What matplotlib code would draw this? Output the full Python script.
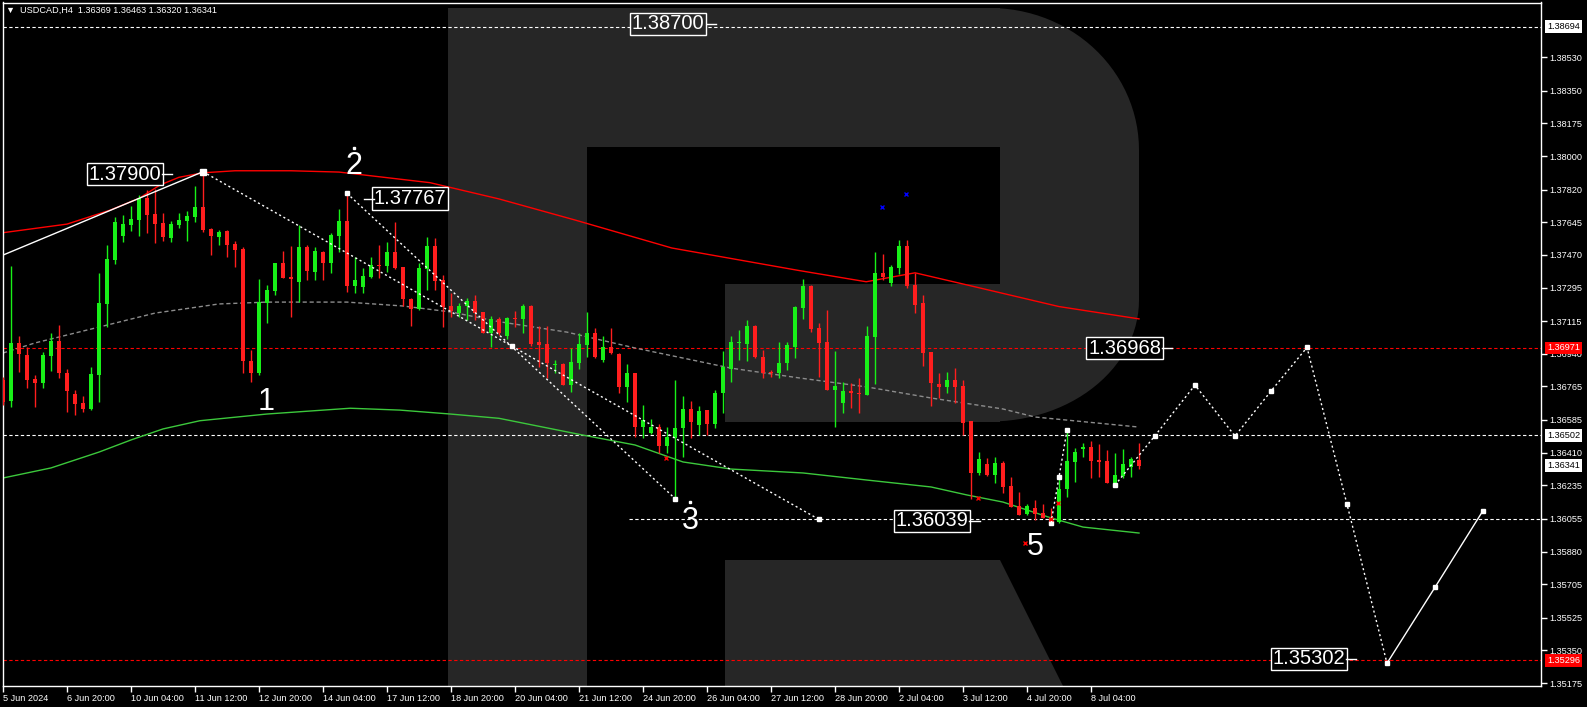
import matplotlib
matplotlib.use("Agg")
import numpy as np
import matplotlib.pyplot as plt
from matplotlib.patches import Polygon

# USDCAD H4, bars 5 Jun -> 8 Jul 2024
opens = [1.36799, 1.36688, 1.36999, 1.36933, 1.36804, 1.36781, 1.36929, 1.37008, 1.36838, 1.36724,
         1.36677, 1.36643, 1.36826, 1.37206, 1.37442, 1.37571, 1.37630, 1.37657, 1.37773, 1.37689,
         1.37642, 1.37562, 1.37630, 1.37653, 1.37675, 1.37728, 1.37608, 1.37567, 1.37600, 1.37528,
         1.37501, 1.36903, 1.36838, 1.37210, 1.37278, 1.37424, 1.37351, 1.37326, 1.37510, 1.37380,
         1.37483, 1.37428, 1.37571, 1.37651, 1.37303, 1.37299, 1.37353, 1.37417, 1.37412, 1.37487,
         1.37403, 1.37233, 1.37180, 1.37394, 1.37517, 1.37335, 1.37197, 1.37156, 1.37197, 1.37222,
         1.37162, 1.37049, 1.37124, 1.37036, 1.37133, 1.37129, 1.37196, 1.37001, 1.36992, 1.36881,
         1.36886, 1.36774, 1.36892, 1.36988, 1.37049, 1.36906, 1.36974, 1.36938, 1.36763, 1.36838,
         1.36549, 1.36516, 1.36549, 1.36447, 1.36491, 1.36540, 1.36642, 1.36558, 1.36638, 1.36563,
         1.36727, 1.36861, 1.36997, 1.36992, 1.37090, 1.36924, 1.36838, 1.36838, 1.36888, 1.36977,
         1.37187, 1.37303, 1.37076, 1.37001, 1.36745, 1.36677, 1.36740, 1.36731, 1.36718, 1.37031,
         1.37371, 1.37321, 1.37401, 1.37517, 1.37308, 1.37213, 1.36951, 1.36777, 1.36763, 1.36799,
         1.36767, 1.36579, 1.36302, 1.36349, 1.36290, 1.36352, 1.36231, 1.36124, 1.36081, 1.36111,
         1.36084, 1.36061, 1.36040, 1.36213, 1.36360, 1.36431, 1.36438, 1.36370, 1.36365, 1.36249,
         1.36286, 1.36335, 1.36369]
highs = [1.36817, 1.37410, 1.37035, 1.36978, 1.36826, 1.36947, 1.37053, 1.37094, 1.36858, 1.36745,
         1.36713, 1.36870, 1.37374, 1.37523, 1.37675, 1.37684, 1.37732, 1.37791, 1.37818, 1.37821,
         1.37696, 1.37653, 1.37696, 1.37705, 1.37839, 1.37916, 1.37612, 1.37603, 1.37603, 1.37546,
         1.37514, 1.36960, 1.37340, 1.37308, 1.37428, 1.37491, 1.37517, 1.37630, 1.37523, 1.37514,
         1.37491, 1.37585, 1.37714, 1.37800, 1.37460, 1.37398, 1.37457, 1.37523, 1.37541, 1.37648,
         1.37407, 1.37237, 1.37424, 1.37564, 1.37558, 1.37362, 1.37264, 1.37210, 1.37237, 1.37255,
         1.37165, 1.37142, 1.37135, 1.37138, 1.37169, 1.37206, 1.37201, 1.37088, 1.37088, 1.36906,
         1.36892, 1.36969, 1.37049, 1.37163, 1.37079, 1.37035, 1.37079, 1.36942, 1.36885, 1.36838,
         1.36665, 1.36588, 1.36566, 1.36549, 1.36802, 1.36713, 1.36686, 1.36659, 1.36640, 1.36745,
         1.36956, 1.37035, 1.37070, 1.37120, 1.37095, 1.36960, 1.36852, 1.37001, 1.37004, 1.37196,
         1.37340, 1.37308, 1.37103, 1.37174, 1.36956, 1.36790, 1.36784, 1.36808, 1.37090, 1.37487,
         1.37474, 1.37415, 1.37549, 1.37549, 1.37371, 1.37254, 1.36951, 1.36838, 1.36843, 1.36865,
         1.36802, 1.36579, 1.36415, 1.36379, 1.36385, 1.36365, 1.36281, 1.36201, 1.36134, 1.36156,
         1.36134, 1.36111, 1.36281, 1.36531, 1.36433, 1.36463, 1.36472, 1.36454, 1.36424, 1.36406,
         1.36427, 1.36385, 1.36463]
lows = [1.36665, 1.36656, 1.36844, 1.36754, 1.36656, 1.36754, 1.36849, 1.36811, 1.36629, 1.36611,
        1.36629, 1.36638, 1.36683, 1.37085, 1.37421, 1.37541, 1.37598, 1.37571, 1.37589, 1.37535,
        1.37546, 1.37541, 1.37612, 1.37546, 1.37648, 1.37594, 1.37469, 1.37523, 1.37460, 1.37403,
        1.36835, 1.36790, 1.36826, 1.37106, 1.37255, 1.37344, 1.37138, 1.37219, 1.37335, 1.37335,
        1.37335, 1.37371, 1.37487, 1.37273, 1.37267, 1.37267, 1.37348, 1.37344, 1.37380, 1.37392,
        1.37196, 1.37088, 1.37175, 1.37281, 1.37281, 1.37085, 1.37135, 1.37138, 1.37121, 1.37121,
        1.37049, 1.36978, 1.37040, 1.37017, 1.37085, 1.37049, 1.36983, 1.36867, 1.36811, 1.36835,
        1.36772, 1.36736, 1.36858, 1.36920, 1.36919, 1.36897, 1.36938, 1.36727, 1.36683, 1.36495,
        1.36486, 1.36509, 1.36406, 1.36406, 1.36164, 1.36388, 1.36486, 1.36504, 1.36504, 1.36540,
        1.36624, 1.36790, 1.36906, 1.36902, 1.36915, 1.36808, 1.36817, 1.36808, 1.36852, 1.36915,
        1.37124, 1.37058, 1.36817, 1.36745, 1.36545, 1.36620, 1.36650, 1.36625, 1.36718, 1.36777,
        1.37335, 1.37303, 1.37365, 1.37290, 1.37160, 1.36876, 1.36661, 1.36701, 1.36731, 1.36674,
        1.36504, 1.36164, 1.36290, 1.36285, 1.36245, 1.36192, 1.36120, 1.36075, 1.36075, 1.36049,
        1.36058, 1.36022, 1.36031, 1.36174, 1.36254, 1.36388, 1.36276, 1.36281, 1.36245, 1.36245,
        1.36272, 1.36281, 1.36320]
closes = [1.36683, 1.36999, 1.36938, 1.36799, 1.36781, 1.36933, 1.37008, 1.36835, 1.36742, 1.36670,
          1.36643, 1.36831, 1.37214, 1.37448, 1.37648, 1.37635, 1.37662, 1.37773, 1.37684, 1.37635,
          1.37567, 1.37635, 1.37657, 1.37678, 1.37728, 1.37603, 1.37571, 1.37594, 1.37523, 1.37496,
          1.36903, 1.36838, 1.37215, 1.37281, 1.37424, 1.37348, 1.37342, 1.37510, 1.37385, 1.37491,
          1.37424, 1.37576, 1.37651, 1.37303, 1.37335, 1.37357, 1.37415, 1.37410, 1.37487, 1.37398,
          1.37233, 1.37180, 1.37398, 1.37517, 1.37332, 1.37192, 1.37169, 1.37197, 1.37224, 1.37160,
          1.37053, 1.37124, 1.37049, 1.37133, 1.37128, 1.37196, 1.36995, 1.36988, 1.36892, 1.36886,
          1.36774, 1.36894, 1.36992, 1.37049, 1.36920, 1.36974, 1.36942, 1.36763, 1.36838, 1.36545,
          1.36584, 1.36549, 1.36447, 1.36495, 1.36540, 1.36642, 1.36575, 1.36633, 1.36563, 1.36731,
          1.36867, 1.37001, 1.37003, 1.37090, 1.36924, 1.36838, 1.36835, 1.36888, 1.36986, 1.37192,
          1.37303, 1.37072, 1.36999, 1.36745, 1.36767, 1.36740, 1.36727, 1.36722, 1.37035, 1.37371,
          1.37353, 1.37403, 1.37517, 1.37303, 1.37201, 1.36945, 1.36784, 1.36763, 1.36799, 1.36763,
          1.36570, 1.36302, 1.36374, 1.36290, 1.36352, 1.36227, 1.36120, 1.36075, 1.36124, 1.36081,
          1.36061, 1.36045, 1.36213, 1.36365, 1.36413, 1.36442, 1.36367, 1.36361, 1.36249, 1.36290,
          1.36349, 1.36376, 1.36341]

# moving averages (bar index, value)
ma_red_bars = [0, 8, 13.4, 17, 19.6, 22, 25, 29, 36, 42, 47, 53.4, 62, 71.5, 83.6, 99.4, 107.9, 114, 120, 132, 142]
ma_red_vals = [1.37589, 1.37635, 1.37710, 1.37773, 1.37844, 1.37886, 1.37910, 1.37921, 1.37921, 1.37914,
               1.37889, 1.37857, 1.37770, 1.37657, 1.37507, 1.37387, 1.37326, 1.37374, 1.37314, 1.37193, 1.37127]
ma_gray_bars = [0, 4, 12, 19, 27, 33, 43, 50, 56, 62, 70.5, 79, 91, 99.6, 108, 116, 125, 129, 142]
ma_gray_vals = [1.36944, 1.36998, 1.37083, 1.37158, 1.37207, 1.37217, 1.37217, 1.37196, 1.37164, 1.37112,
                1.37056, 1.36971, 1.36863, 1.36810, 1.36762, 1.36703, 1.36644, 1.36601, 1.36547]
ma_green_bars = [0, 6, 12, 16, 20, 24.6, 33, 43.4, 49.6, 55.9, 62, 72.5, 79, 85, 91, 100, 108, 116, 120.5, 125, 131, 135, 142]
ma_green_vals = [1.36274, 1.36328, 1.36413, 1.36478, 1.36537, 1.36581, 1.36617, 1.36648, 1.36638, 1.36617,
                 1.36594, 1.36504, 1.36451, 1.36360, 1.36322, 1.36301, 1.36263, 1.36226, 1.36183, 1.36145,
                 1.36060, 1.36011, 1.35979]

# wave lines
lead_bars = [0, 25]
lead_vals = [1.37469, 1.37916]
wave_a_bars = [25, 63.6, 102]
wave_a_vals = [1.37916, 1.36981, 1.36052]
wave_b_bars = [43, 84]
wave_b_vals = [1.37800, 1.36164]
wave5_bars = [131, 132, 133]
wave5_vals = [1.36033, 1.36279, 1.36531]
fc_bars = [139, 144, 149, 154, 158.5, 163, 168, 173]
fc_vals = [1.36236, 1.36501, 1.36772, 1.36499, 1.36740, 1.36974, 1.36133, 1.35281]
fc2_bars = [173, 179, 185]
fc2_vals = [1.35281, 1.35688, 1.36099]

red_x_bars = [82.9, 121.9, 131.9, 131.05, 127.8]
red_x_vals = [1.36383, 1.36166, 1.36142, 1.36052, 1.35924]
blue_bars = [109.9, 112.9]
blue_vals = [1.37729, 1.37796]

# level lines
white_levels = [1.38694, 1.36502, 1.36055]
white_starts = [0, 0, 78.2]
red_levels = [1.36971, 1.35296]

# price labels on chart: text, bar, price, connector (start, end)
notes = [("1.38700", 83.1, 1.38708, 88.0, 89.1),
         ("1.37900", 15.2, 1.37903, 19.9, 21.1),
         ("1.37767", 50.9, 1.37772, 46.4, 45.1),
         ("1.36968", 140.2, 1.36969, 144.9, 146.1),
         ("1.36039", 116.1, 1.36044, 120.8, 122.1),
         ("1.35302", 163.2, 1.35304, 167.9, 169.1)]
wave_nums = [("1", 32.9, 1.36684), ("2", 43.9, 1.37949), ("3", 85.9, 1.36046), ("5", 129.0, 1.35904)]
wave_dots_bars = [43.9, 85.9]
wave_dots_vals = [1.38043, 1.36145]

tick_bars = list(range(0, 137, 8))
tick_labels = ["5 Jun 2024", "6 Jun 20:00", "10 Jun 04:00", "11 Jun 12:00", "12 Jun 20:00",
               "14 Jun 04:00", "17 Jun 12:00", "18 Jun 20:00", "20 Jun 04:00", "21 Jun 12:00",
               "24 Jun 20:00", "26 Jun 04:00", "27 Jun 12:00", "28 Jun 20:00", "2 Jul 04:00",
               "3 Jul 12:00", "4 Jul 20:00", "8 Jul 04:00"]
price_ticks = [1.38530, 1.38350, 1.38175, 1.38000, 1.37820, 1.37645, 1.37470, 1.37295, 1.37115, 1.36940,
               1.36765, 1.36585, 1.36410, 1.36235, 1.36055, 1.35880, 1.35705, 1.35525, 1.35350, 1.35175]
axis_boxes = [(1.38694, "white", "black"), (1.36971, "#ff0000", "white"), (1.36502, "white", "black"),
              (1.36341, "white", "black"), (1.35296, "#ff0000", "white")]

GREEN = "#18f018"
RED = "#ff1e1e"
WM = "#262626"
SMALL = "Liberation Sans"
FS = 6.6

W, H = 1587, 707
fig = plt.figure(figsize=(W / 100, H / 100), dpi=100, facecolor="black")
ax = fig.add_axes([3 / W, 1 - 686 / H, (1541 - 3) / W, (686 - 2.5) / H])
ax.set_facecolor("black")
ax.set_xlim(0, (1541 - 3) / 8)
ax.set_ylim(1.35159, 1.38823)


# watermark "R", in figure pixels (y down)
def pix(pts):
    return [(x / W, 1 - y / H) for x, y in pts]


t = np.linspace(np.pi / 2, 0, 30)
top_arc = [(990 + 149 * np.cos(a), 150 - 142 * np.sin(a)) for a in t]
bot_arc = [(990 + 149 * np.cos(a), 300 + 121.5 * np.sin(a)) for a in t[::-1]]
shapes = [
    [(448, 8), (587, 8), (587, 686), (448, 686)],
    [(587, 8), (1000, 8), (1000, 146.5), (587, 146.5)],
    [(1000, 8)] + top_arc + bot_arc + [(1000, 421.5)],
    [(725, 284), (1000, 284), (1000, 421.5), (725, 421.5)],
    [(725, 560), (1000, 560), (1063, 686), (725, 686)],
]
for s in shapes:
    ax.add_patch(Polygon(pix(s), closed=True, transform=fig.transFigure,
                         facecolor=WM, edgecolor="none", zorder=0))

# level lines
for lv, st in zip(white_levels, white_starts):
    ax.plot([st, 200], [lv, lv], color="white", lw=0.8, dashes=(3, 2.2), zorder=1)
for lv in red_levels:
    ax.plot([0, 200], [lv, lv], color="#ff0000", lw=0.8, dashes=(3, 2.2), zorder=1)

# moving averages
ax.plot(ma_red_bars, ma_red_vals, color="#ff0000", lw=1, zorder=2)
ax.plot(ma_gray_bars, ma_gray_vals, color="#8c8c8c", lw=1, dashes=(3, 2), zorder=2)
ax.plot(ma_green_bars, ma_green_vals, color="#3cc83c", lw=1, zorder=2)

# candles
x = np.arange(len(opens))
o, h, l, c = map(np.array, (opens, highs, lows, closes))
up = c >= o
cols = np.where(up, GREEN, RED)
ax.vlines(x, l, h, colors=cols, lw=1, zorder=3)
body = np.maximum(np.abs(c - o), 0.00006)
ax.bar(x, body, bottom=np.minimum(o, c), width=0.62, color=cols, lw=0, zorder=3)

# wave lines and forecast
ax.plot(lead_bars, lead_vals, color="white", lw=1, zorder=4)
ax.plot(wave_a_bars, wave_a_vals, color="white", lw=1, dashes=(1.5, 2), zorder=4)
ax.plot(wave_b_bars, wave_b_vals, color="white", lw=1, dashes=(1.5, 2), zorder=4)
ax.plot(wave5_bars, wave5_vals, color="white", lw=1, dashes=(1.5, 2), zorder=4)
ax.plot(fc_bars, fc_vals, color="white", lw=1, dashes=(1.5, 2), zorder=4)
ax.plot(fc2_bars, fc2_vals, color="white", lw=1, zorder=4)
mk = dict(ls="none", marker="s", color="white", ms=3, zorder=5)
ax.plot(wave_a_bars, wave_a_vals, **mk)
ax.plot(wave_b_bars, wave_b_vals, **mk)
ax.plot(wave5_bars, wave5_vals, **mk)
ax.plot(fc_bars + fc2_bars[1:], fc_vals + fc2_vals[1:], **mk)
ax.plot([25], [1.37916], ls="none", marker="s", color="white", ms=4.5, zorder=5)
ax.plot(red_x_bars, red_x_vals, ls="none", marker="x", color="#ff0000", ms=3, mew=1, zorder=5)
ax.plot(blue_bars, blue_vals, ls="none", marker="x", color="#0000ff", ms=3, mew=1, zorder=5)

# annotations
for txt, b, p, c0, c1 in notes:
    face = WM if txt == "1.38700" else "black"
    ax.text(b, p, txt, color="white", fontsize=14.5, family="Liberation Sans",
            ha="center", va="center", zorder=6,
            bbox=dict(boxstyle="square,pad=0.08", fc=face, ec="white", lw=1))
    ax.plot([c0, c1], [p, p], color="white", lw=1, zorder=6)
for txt, b, p in wave_nums:
    ax.text(b, p, txt, color="white", fontsize=22, family="Liberation Sans",
            ha="center", va="center", zorder=6)
ax.plot(wave_dots_bars, wave_dots_vals, ls="none", marker="s", color="white", ms=2, zorder=6)

# axes styling
for sp in ax.spines.values():
    sp.set_color("white")
    sp.set_linewidth(1)
ax.yaxis.tick_right()
ax.set_yticks(price_ticks, [f"{v:.5f}" for v in price_ticks])
ax.set_xticks(tick_bars, tick_labels)
ax.tick_params(axis="both", colors="white", length=4, width=1, direction="out", labelsize=FS)
ax.tick_params(axis="y", pad=2)
ax.tick_params(axis="x", pad=1.5)
for lbl in ax.get_xticklabels() + ax.get_yticklabels():
    lbl.set_family(SMALL)
for lbl in ax.get_xticklabels():
    lbl.set_ha("left")

ytr = ax.get_yaxis_transform()
for p, fc, tc in axis_boxes:
    ax.text(1 + 6 / 1538, p, f"{p:.5f}", transform=ytr, color=tc, fontsize=FS, family=SMALL,
            ha="left", va="center", zorder=7, clip_on=False,
            bbox=dict(boxstyle="square,pad=0.2", fc=fc, ec="none"))

fig.text(6 / W, 1 - 10 / H, "\u25bc  USDCAD,H4  1.36369 1.36463 1.36320 1.36341", color="white",
         fontsize=FS, family=[SMALL, "DejaVu Sans"], ha="left", va="center")

fig.savefig("out.png", dpi=100, facecolor="black")
